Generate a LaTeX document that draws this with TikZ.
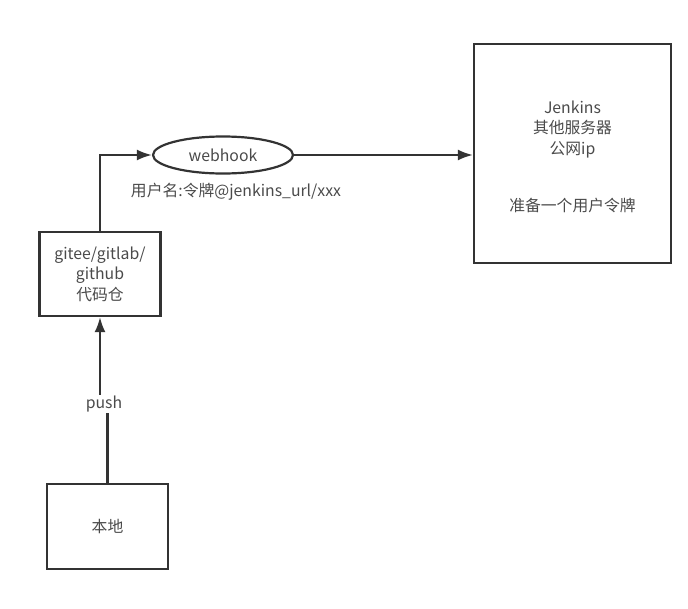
\documentclass[tikz,border=0pt]{standalone}
\usepackage{fontspec}
\setmainfont{Noto Sans CJK SC}
\usetikzlibrary{shapes.geometric,arrows.meta}
\definecolor{ln}{HTML}{333333}
\definecolor{tx}{HTML}{4A4A4A}
\begin{document}
\begin{tikzpicture}[x=1pt,y=-1pt,
  every node/.style={text=tx,font=\fontsize{15.8pt}{20.5pt}\selectfont},
  boxnode/.style={draw=ln,line width=2.2pt,rectangle,inner sep=0pt,align=center},
  ovalnode/.style={draw=ln,line width=2.2pt,ellipse,inner sep=0pt,minimum width=140pt,minimum height=37pt},
  plainnode/.style={inner sep=1pt,align=center},
  conn/.style={draw=ln,line width=2.2pt},
  arr/.style={conn,-{Latex[length=15pt,width=11pt]}}]
\useasboundingbox (0,0) rectangle (688,608);
\node[boxnode,minimum width=121pt,minimum height=84pt] (repo) at (100,274) {gitee/gitlab/\\github\\代码仓};
\node[boxnode,minimum width=121pt,minimum height=85pt] (local) at (107.5,526.5) {本地};
\node[boxnode,minimum width=197pt,minimum height=219pt] (jenkins) at (572.5,153.5) {};
\node[plainnode] (jtext) at (572.5,157) {Jenkins\\其他服务器\\公网ip\\[37pt]准备一个用户令牌};
\node[ovalnode] (hook) at (223,155) {webhook};
\node[plainnode] (url) at (236,192) {用户名:令牌@jenkins\_url/xxx};
\node[plainnode] (push) at (104,404) {push};
\draw[arr] (repo.north) |- (hook.west);
\draw[arr] (hook.east) -- (hook.east -| jenkins.west);
\draw[conn] (local.north) -- (local.north |- push.south);
\draw[arr] (push.north -| repo.south) -- (repo.south);
\end{tikzpicture}
\end{document}
